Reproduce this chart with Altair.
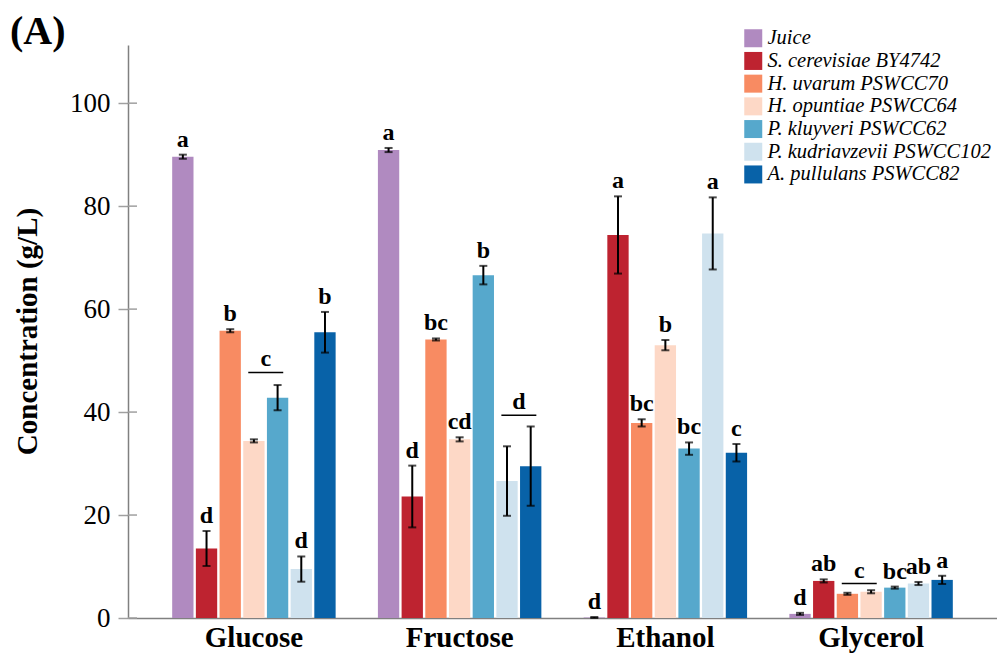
import altair as alt
import pandas as pd

SERIF = "Liberation Serif"

categories = ["Glucose", "Fructose", "Ethanol", "Glycerol"]
strains = ["Juice", "S. cerevisiae BY4742", "H. uvarum PSWCC70", "H. opuntiae PSWCC64",
           "P. kluyveri PSWCC62", "P. kudriavzevii PSWCC102", "A. pullulans PSWCC82"]
colors = ["#B08AC0", "#BE2330", "#F88B62", "#FDD8C6", "#56A8CC", "#CFE2EE", "#0862A8"]

glucose_mean = [89.6, 13.5, 55.8, 34.4, 42.8, 9.5, 55.5]
glucose_err = [0.4, 3.4, 0.3, 0.3, 2.45, 2.45, 3.95]
fructose_mean = [90.9, 23.6, 54.1, 34.7, 66.6, 26.6, 29.5]
fructose_err = [0.4, 6.0, 0.2, 0.4, 1.8, 6.75, 7.7]
ethanol_mean = [0.1, 74.4, 37.9, 53.0, 32.9, 74.7, 32.1]
ethanol_err = [0.1, 7.5, 0.7, 1.0, 1.2, 7.0, 1.7]
glycerol_mean = [0.8, 7.2, 4.7, 5.1, 5.9, 6.7, 7.4]
glycerol_err = [0.2, 0.3, 0.2, 0.3, 0.2, 0.3, 0.8]

glucose_letters = ["a", "d", "b", "", "", "d", "b"]
fructose_letters = ["a", "d", "bc", "cd", "b", "", ""]
ethanol_letters = ["d", "a", "bc", "b", "bc", "a", "c"]
glycerol_letters = ["d", "ab", "", "", "bc", "ab", "a"]

# shared letters over a line: category, letter, index of left strain, line level
group_categories = ["Glucose", "Fructose", "Glycerol"]
group_letters = ["c", "d", "c"]
group_left_index = [3, 5, 2]
group_line_level = [47.7, 39.4, 6.7]

y_ticks = [0, 20, 40, 60, 80, 100]
panel_label = ["(A)"]

means = [glucose_mean, fructose_mean, ethanol_mean, glycerol_mean]
errs = [glucose_err, fructose_err, ethanol_err, glycerol_err]
letters = [glucose_letters, fructose_letters, ethanol_letters, glycerol_letters]

rows = []
for ci, cat in enumerate(categories):
    for si, s in enumerate(strains):
        m = means[ci][si]
        e = errs[ci][si]
        rows.append({"category": cat, "strain": s, "mean": m, "lo": m - e, "hi": m + e,
                     "letter": letters[ci][si]})
df = pd.DataFrame(rows)

x_scale = alt.Scale(domain=categories, paddingInner=0.194, paddingOuter=0.209)
x_axis = alt.Axis(title=None, labelAngle=0, ticks=False, labelFont=SERIF, labelFontWeight="bold",
                  labelFontSize=29, labelColor="black", labelPadding=5,
                  domainColor="#808080", domainWidth=1.5)
xo_scale = alt.Scale(domain=strains, paddingInner=0.1, paddingOuter=0.05)
y_scale = alt.Scale(domain=[0, 111.3], nice=False)
y_axis = alt.Axis(title="Concentration (g/L)", values=y_ticks, grid=False, labelFont=SERIF,
                  labelFontSize=27, labelColor="black", tickColor="#a0a0a0", tickWidth=1.5,
                  tickSize=10, labelPadding=8, domainColor="#808080", domainWidth=1.5,
                  titleFont=SERIF, titleFontWeight="bold", titleFontSize=29, titleColor="black",
                  titleAngle=270, titleAlign="center", titleBaseline="alphabetic",
                  titleX=-92, titleY=286)


def X(**kw):
    return alt.X("category:N", scale=x_scale, axis=x_axis, **kw)


def XO():
    return alt.XOffset("strain:N", scale=xo_scale)


def Y(field):
    return alt.Y(field, scale=y_scale, axis=y_axis)


base = alt.Chart(df)

bars = base.mark_bar().encode(
    x=X(), xOffset=XO(), y=Y("mean:Q"),
    color=alt.Color("strain:N", scale=alt.Scale(domain=strains, range=colors),
                    legend=alt.Legend(title=None, orient="none", legendX=615, legendY=-17,
                                      symbolType="square", symbolSize=324, symbolStrokeWidth=0,
                                      labelFont=SERIF, labelFontStyle="italic", labelFontSize=20.5,
                                      labelColor="black", labelOffset=4, rowPadding=1.7,
                                      padding=0, labelLimit=400)),
)

err_rule = base.mark_rule(color="black", strokeWidth=2).encode(
    x=X(), xOffset=XO(), y=Y("lo:Q"), y2="hi:Q")
cap_lo = base.mark_tick(color="black", thickness=2, size=8, orient="horizontal").encode(
    x=X(), xOffset=XO(), y=Y("lo:Q"))
cap_hi = base.mark_tick(color="black", thickness=2, size=8, orient="horizontal").encode(
    x=X(), xOffset=XO(), y=Y("hi:Q"))

letters_layer = base.transform_filter(alt.datum.letter != "").mark_text(
    font=SERIF, fontWeight="bold", fontSize=24, baseline="alphabetic", dy=-8, color="black"
).encode(x=X(), xOffset=XO(), y=Y("hi:Q"), text="letter:N")

layers = [bars, err_rule, cap_lo, cap_hi, letters_layer]

n = len(strains)
for cat, let, li, lvl in zip(group_categories, group_letters, group_left_index, group_line_level):
    gdf = pd.DataFrame({"category": [cat], "letter": [let], "line": [lvl]})
    bp_mid = (li + 1) / n
    bp_a = (li + 0.5) / n - 0.034
    bp_b = (li + 1.5) / n + 0.034
    gline = alt.Chart(gdf).mark_rule(color="black", strokeWidth=1.5).encode(
        x=X(bandPosition=bp_a), x2=alt.X2("category:N", bandPosition=bp_b), y=Y("line:Q"))
    gtext = alt.Chart(gdf).mark_text(font=SERIF, fontWeight="bold", fontSize=24,
                                     baseline="alphabetic", dy=-6, color="black").encode(
        x=X(bandPosition=bp_mid), y=Y("line:Q"), text="letter:N")
    layers += [gline, gtext]

tick_df = pd.DataFrame({"t": y_ticks})
inner_ticks = alt.Chart(tick_df).mark_rule(color="#a0a0a0", strokeWidth=1.5).encode(
    y=Y("t:Q"), x=alt.value(0), x2=alt.value(9))
layers.append(inner_ticks)

title_df = pd.DataFrame({"label": panel_label})
title_layer = alt.Chart(title_df).mark_text(
    font=SERIF, fontSize=40, fontWeight="bold", color="black", align="left", baseline="alphabetic"
).encode(x=alt.value(-118), y=alt.value(-1), text="label:N")
layers.append(title_layer)

chart = alt.layer(*layers).properties(
    width=869, height=573,
    autosize=alt.AutoSizeParams(type="none"),
    padding={"left": 120, "top": 37, "right": 0, "bottom": 36},
).configure_view(stroke=None)

chart.save("out.html", embed_options={"renderer": "svg", "actions": False})
